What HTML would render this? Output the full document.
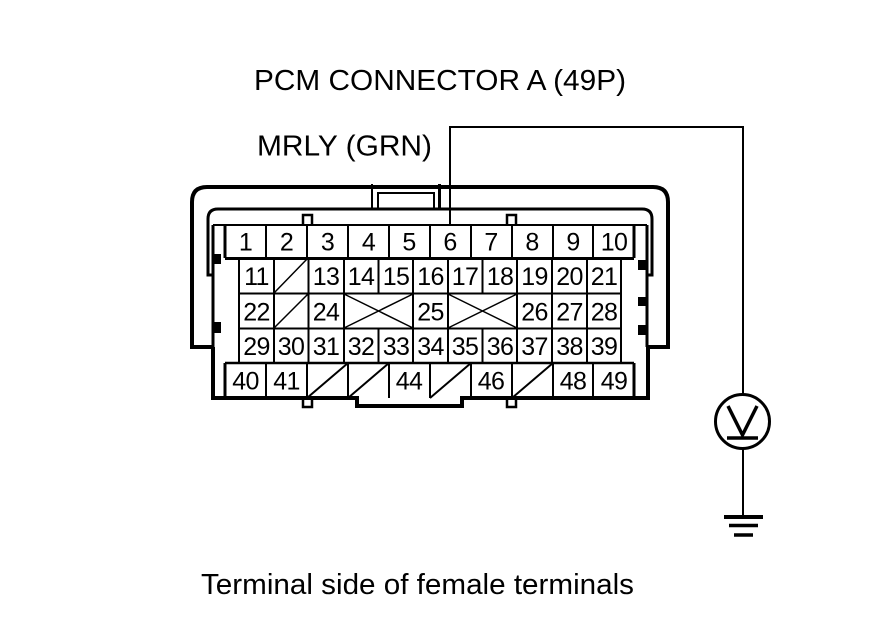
<!DOCTYPE html>
<html><head><meta charset="utf-8"><style>
html,body{margin:0;padding:0;background:#fff;width:880px;height:630px;overflow:hidden}
svg{display:block}
text{font-family:"Liberation Sans",Arial,sans-serif;fill:#000}
.c text{font-size:25px;text-anchor:middle;letter-spacing:-0.6px}
</style></head><body>
<svg width="880" height="630" viewBox="0 0 880 630" xmlns="http://www.w3.org/2000/svg">
<text x="254" y="90" font-size="28.500" textLength="372" lengthAdjust="spacingAndGlyphs">PCM CONNECTOR A (49P)</text>
<text x="257" y="155.500" font-size="28.500" textLength="175" lengthAdjust="spacingAndGlyphs">MRLY (GRN)</text>
<text x="201" y="594" font-size="28.500" textLength="433" lengthAdjust="spacingAndGlyphs">Terminal side of female terminals</text>

<g fill="none" stroke="#000">
<!-- outer housing -->
<path stroke-width="4" d="M213 347H192V202Q192 187 207 187H653Q668 187 668 202V347H648M213 347V398H357V406H462V398H648V347"/>
<!-- inner -->
<path stroke-width="3" d="M213 275H208V219Q208 209 218 209H642Q652 209 652 219V275H647"/>
<path stroke-width="2" d="M213 225H647"/>
<path stroke-width="3" d="M647 225V347M213 225V347"/>
<!-- latch -->
<path stroke-width="2" d="M372 184V209"/>
<path stroke-width="3" d="M439.500 184V209"/>
<path stroke-width="2" d="M378 209V193H434V209"/>
<!-- tabs -->
<path stroke-width="2.500" d="M303 225V215H312V225M507 225V215H516V225M303 398V407H312V398M507 398V407H516V398"/>

<!-- row 1 -->
<path stroke-width="2" d="M266 225V258M307 225V258M348 225V258M389 225V258M430 225V258M471 225V258M512 225V258M553 225V258M593 225V258"/>
<path stroke-width="3" d="M225 225V258M634 225V258M225 258.500H634"/>
<!-- body grid -->
<path stroke-width="2" d="M239 258V363M621 258V363M239 293.500H621M239 328.500H621"/>
<path stroke-width="2" d="M274 258V363M308.500 258V363M344 258V363M517 258V363M552 258V363M587 258V363"/>
<path stroke-width="2" d="M378.500 258V293M378.500 329V363M413 258V363M448 258V363M482.500 258V293M482.500 329V363"/>
<!-- row 5 -->
<path stroke-width="2.500" d="M225 363H634"/>
<path stroke-width="3" d="M225 363V398M634 363V398"/>
<path stroke-width="2" d="M266 363V398M307 363V398M348 363V398M389 363V398M430 363V398M471 363V398M512 363V398M553 363V398M593 363V398"/>
<!-- diagonals -->
<path stroke-width="1.500" d="M274 293L308 258M274 328L308 294M344 294L413 328M344 328L413 294M448 294L517 328M448 328L517 294"/>
<path stroke-width="2" d="M307 398L348 363M348 398L389 363M430 398L471 363M512 398L553 363"/>
<!-- wire -->
<path stroke-width="2" d="M450 225V127H743V394M743 449V516"/>
<circle cx="742.500" cy="421.500" r="27" stroke-width="3"/>
<path stroke-width="3.500" d="M728 406L742.500 435L757 406"/>
<path stroke-width="3.500" d="M727 438H758"/>
<path stroke-width="4" d="M724 517H763"/>
<path stroke-width="3.500" d="M729 525.500H758"/>
<path stroke-width="3.500" d="M734 535H753"/>
</g>

<g fill="#000">
<rect x="213" y="254" width="8" height="10"/>
<rect x="213" y="322" width="8" height="11"/>
<rect x="638" y="260" width="9" height="10"/>
<rect x="638" y="297" width="9" height="9"/>
<rect x="638" y="325" width="9" height="10"/>
</g>

<g class="c">
<text x="245.500" y="250.500">1</text><text x="286.500" y="250.500">2</text><text x="327.500" y="250.500">3</text><text x="368.500" y="250.500">4</text><text x="409" y="250.500">5</text><text x="450" y="250.500">6</text><text x="491" y="250.500">7</text><text x="532" y="250.500">8</text><text x="573" y="250.500">9</text><text x="614" y="250.500">10</text>

<text x="256.500" y="285">11</text><text x="326" y="285">13</text><text x="361" y="285">14</text><text x="396" y="285">15</text><text x="430.500" y="285">16</text><text x="465" y="285">17</text><text x="500" y="285">18</text><text x="534.500" y="285">19</text><text x="569.500" y="285">20</text><text x="604" y="285">21</text>

<text x="256.500" y="320.500">22</text><text x="326" y="320.500">24</text><text x="430.500" y="320.500">25</text><text x="534.500" y="320.500">26</text><text x="569.500" y="320.500">27</text><text x="604" y="320.500">28</text>

<text x="256.500" y="355">29</text><text x="291" y="355">30</text><text x="326" y="355">31</text><text x="361" y="355">32</text><text x="396" y="355">33</text><text x="430.500" y="355">34</text><text x="465" y="355">35</text><text x="500" y="355">36</text><text x="534.500" y="355">37</text><text x="569.500" y="355">38</text><text x="604" y="355">39</text>

<text x="245.500" y="389.500">40</text><text x="286.500" y="389.500">41</text><text x="409" y="389.500">44</text><text x="491" y="389.500">46</text><text x="573" y="389.500">48</text><text x="614" y="389.500">49</text>
</g>
</svg>
</body></html>
